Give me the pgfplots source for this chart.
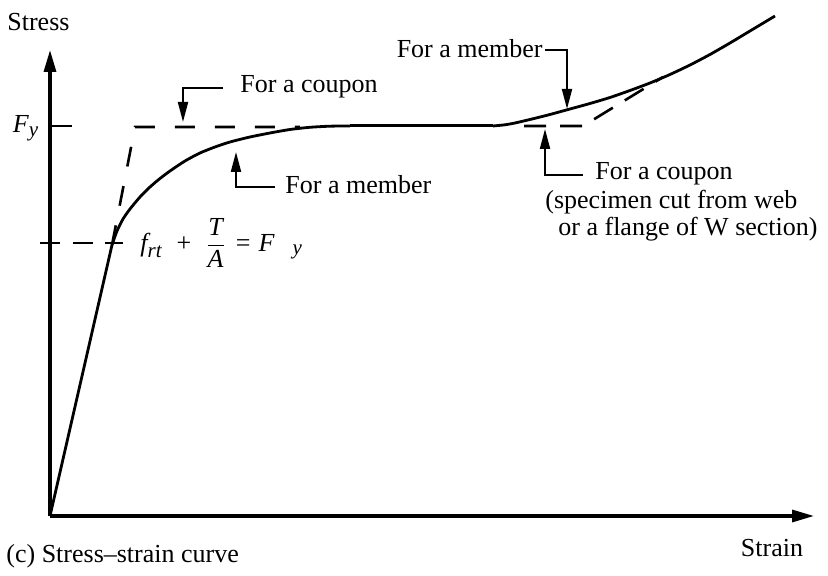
\documentclass[border=0pt]{standalone}
\usepackage{pgfplots}
\pgfplotsset{compat=1.18}
\usepackage{amsmath}
\usepackage{fontspec}
\setmainfont{Liberation Serif}
\usetikzlibrary{arrows.meta}

\newcommand{\sub}[1]{\mbox{\fontsize{10.5pt}{12pt}\selectfont\itshape #1}}

\begin{document}
\begin{tikzpicture}[font=\fontsize{13pt}{15.6pt}\selectfont]
\begin{axis}[
  scale only axis, width=414pt, height=288pt,
  xmin=-50, xmax=778, ymin=-60, ymax=516,
  axis lines=none, clip=false,
]
\path (rel axis cs:0,0) rectangle (rel axis cs:1,1);

% coordinate axes
\draw[line width=1.6pt, -{Triangle[length=11pt,width=6pt]}] (axis cs:0,0) -- (axis cs:0,466);
\draw[line width=1.6pt, -{Triangle[length=11pt,width=6pt]}] (axis cs:0,0) -- (axis cs:764,0);

% marks on the stress axis
\draw[line width=1.3pt] (axis cs:0,390) -- (axis cs:22,390);
\addplot[line width=1.3pt, dash pattern=on 10pt off 6.3pt] coordinates {(-10,273) (73,273)};

% member curve: elastic part
\addplot[line width=1.4pt] coordinates {(0,0) (62,271)};
% member curve: gradual yielding up to the plateau
\addplot[line width=1.4pt, smooth, tension=0.4] coordinates {
  (62,271) (67,285) (73,297) (80,307) (90,319) (100,329) (110,337.5)
  (120,345) (135,355) (150,363) (165,369) (180,374) (200,379)
  (220,383) (240,386.5) (260,388.7) (280,389.8) (300,390)
};
% yield plateau
\addplot[line width=1.5pt] coordinates {(300,390) (443,390)};
% member curve: strain hardening
\addplot[line width=1.4pt, smooth, tension=0.4] coordinates {
  (443,390) (455,391.2) (465,393) (480,396.5) (500,401.5) (520,407)
  (540,412.5) (560,418.5) (580,425.5) (600,433) (620,441.5) (640,451)
  (660,461.5) (680,473) (700,485) (725,500)
};

% coupon curve
\addplot[line width=1.3pt, dash pattern=on 10pt off 10pt] coordinates {
  (62,271) (85,389) (250,389)
};
\addplot[line width=1.3pt, dash pattern=on 11pt off 7pt] coordinates {
  (474,390) (533,390) (613,439)
};

% annotations
\draw[line width=1pt, -{Triangle[length=10pt,width=5pt]}]
  (axis cs:173,428) -- (axis cs:133,428) -- (axis cs:133,394);
\node[anchor=west, inner sep=0pt] at (axis cs:190,429) {For a coupon};

\draw[line width=1pt, -{Triangle[length=10pt,width=5pt]}]
  (axis cs:225,329) -- (axis cs:186,329) -- (axis cs:186,364);
\node[anchor=west, inner sep=0pt] at (axis cs:235,331) {For a member};

\draw[line width=1pt, -{Triangle[length=10pt,width=5pt]}]
  (axis cs:495,466) -- (axis cs:517,466) -- (axis cs:517,407);
\node[anchor=east, inner sep=0pt] at (axis cs:493,467) {For a member};

\draw[line width=1pt, -{Triangle[length=10pt,width=5pt]}]
  (axis cs:533,341) -- (axis cs:495,341) -- (axis cs:495,387);
\node[anchor=west, inner sep=0pt] at (axis cs:545,342) {For a coupon};
\node[anchor=west, inner sep=0pt] at (axis cs:495,314) {(specimen cut from web};
\node[anchor=west, inner sep=0pt] at (axis cs:508,287) {or a flange of W section)};

\node[anchor=west, inner sep=0pt] at (axis cs:90,273)
  {$\displaystyle \textit{f}_{\sub{rt}}\hspace{7pt}\mbox{+}\hspace{7pt}\frac{\textit{T}}{\textit{A}}\hspace{5pt}\mbox{=}\hspace{4pt}\textit{F}_{\hspace{9pt}\sub{y}}$};

% axis labels
\node[inner sep=0pt] at (axis cs:-24,388) {$\textit{F}_{\sub{y}}$};
\node[anchor=west, inner sep=0pt] at (axis cs:-43,494) {Stress};
\node[inner sep=0pt] at (axis cs:722,-32) {Strain};
\node[anchor=west, inner sep=0pt] at (axis cs:-44,-40) {(c) Stress–strain curve};
\end{axis}
\end{tikzpicture}
\end{document}
